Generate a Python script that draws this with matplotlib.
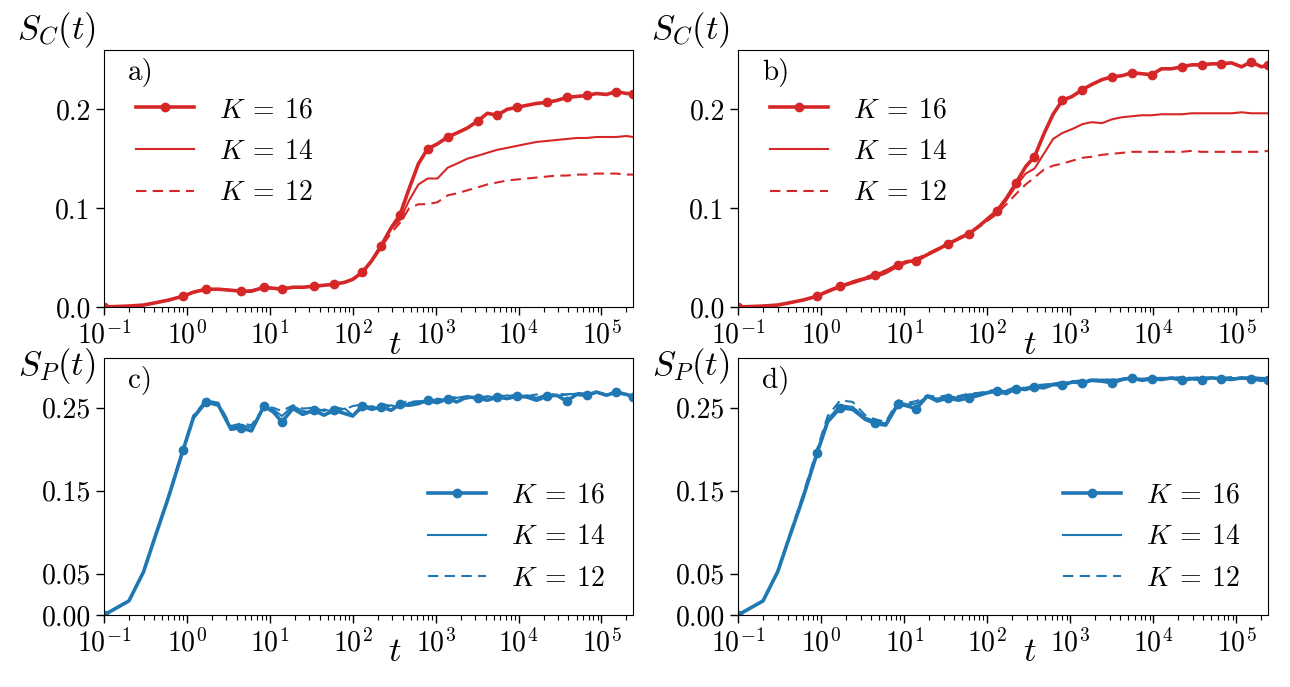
import matplotlib
matplotlib.use("Agg")
import matplotlib.pyplot as plt

plt.rcParams["mathtext.fontset"] = "cm"
plt.rcParams["font.family"] = "serif"
plt.rcParams["font.serif"] = ["cmr10", "DejaVu Serif"]
plt.rcParams["axes.formatter.use_mathtext"] = True

# time grid shared by all curves
t = [0.1, 0.2, 0.3, 0.4, 0.6, 0.9, 1.2, 1.7, 2.4, 3.4, 4.5, 6.0, 8.5,
     11, 14, 19, 25, 34, 45, 60, 80, 100, 130, 170, 220, 290, 370, 480,
     620, 800, 1050, 1400, 1800, 2400, 3200, 4200, 5500, 7300, 9500,
     12500, 16500, 22000, 29000, 38000, 50000, 66000, 87000, 115000,
     150000, 200000, 240000]

# panel a) S_C(t)
sc_a_16 = [0.000, 0.001, 0.002, 0.004, 0.007, 0.011, 0.015, 0.018, 0.018, 0.017,
           0.016, 0.016, 0.020, 0.019, 0.018, 0.020, 0.020, 0.021, 0.022, 0.023,
           0.025, 0.028, 0.035, 0.047, 0.062, 0.080, 0.093, 0.120, 0.145, 0.160,
           0.165, 0.172, 0.176, 0.181, 0.188, 0.196, 0.194, 0.200, 0.202, 0.204,
           0.206, 0.207, 0.209, 0.212, 0.213, 0.214, 0.216, 0.215, 0.218, 0.216,
           0.216]
sc_a_14 = [0.000, 0.001, 0.002, 0.004, 0.007, 0.011, 0.015, 0.018, 0.018, 0.017,
           0.016, 0.017, 0.019, 0.019, 0.019, 0.020, 0.020, 0.021, 0.022, 0.023,
           0.025, 0.028, 0.035, 0.047, 0.061, 0.079, 0.088, 0.108, 0.124, 0.130,
           0.130, 0.141, 0.145, 0.150, 0.153, 0.156, 0.159, 0.161, 0.163, 0.165,
           0.167, 0.168, 0.169, 0.170, 0.171, 0.171, 0.172, 0.172, 0.172, 0.173,
           0.172]
sc_a_12 = [0.000, 0.001, 0.002, 0.004, 0.007, 0.011, 0.015, 0.018, 0.018, 0.017,
           0.016, 0.017, 0.019, 0.019, 0.019, 0.020, 0.020, 0.021, 0.022, 0.023,
           0.025, 0.028, 0.035, 0.046, 0.060, 0.075, 0.085, 0.100, 0.104, 0.104,
           0.106, 0.113, 0.115, 0.118, 0.121, 0.124, 0.126, 0.128, 0.129, 0.130,
           0.131, 0.132, 0.133, 0.133, 0.134, 0.134, 0.135, 0.135, 0.135, 0.134,
           0.134]

# panel b) S_C(t)
sc_b_16 = [0.000, 0.001, 0.002, 0.004, 0.007, 0.011, 0.016, 0.021, 0.025, 0.029,
           0.032, 0.036, 0.043, 0.046, 0.047, 0.053, 0.058, 0.064, 0.069, 0.074,
           0.082, 0.089, 0.097, 0.110, 0.125, 0.142, 0.152, 0.175, 0.195, 0.209,
           0.213, 0.220, 0.225, 0.230, 0.233, 0.234, 0.237, 0.236, 0.235, 0.241,
           0.241, 0.243, 0.245, 0.245, 0.246, 0.246, 0.247, 0.243, 0.248, 0.243,
           0.245]
sc_b_14 = [0.000, 0.001, 0.002, 0.004, 0.007, 0.011, 0.015, 0.020, 0.024, 0.028,
           0.030, 0.034, 0.041, 0.045, 0.048, 0.053, 0.058, 0.064, 0.069, 0.074,
           0.082, 0.088, 0.096, 0.108, 0.122, 0.135, 0.140, 0.155, 0.170, 0.176,
           0.180, 0.185, 0.187, 0.186, 0.190, 0.192, 0.193, 0.194, 0.194, 0.195,
           0.195, 0.195, 0.196, 0.196, 0.196, 0.196, 0.196, 0.197, 0.196, 0.196,
           0.196]
sc_b_12 = [0.000, 0.001, 0.002, 0.004, 0.007, 0.011, 0.016, 0.021, 0.026, 0.030,
           0.034, 0.037, 0.043, 0.047, 0.049, 0.054, 0.059, 0.065, 0.070, 0.075,
           0.081, 0.087, 0.094, 0.104, 0.114, 0.124, 0.131, 0.139, 0.143, 0.145,
           0.148, 0.151, 0.152, 0.154, 0.155, 0.156, 0.157, 0.157, 0.157, 0.157,
           0.157, 0.157, 0.158, 0.157, 0.157, 0.157, 0.157, 0.157, 0.157, 0.157,
           0.158]

# panel c) S_P(t)
sp_c_16 = [0.000, 0.017, 0.052, 0.090, 0.142, 0.199, 0.238, 0.257, 0.253, 0.224,
           0.226, 0.222, 0.252, 0.245, 0.233, 0.249, 0.242, 0.247, 0.241, 0.247,
           0.243, 0.240, 0.252, 0.248, 0.251, 0.247, 0.254, 0.253, 0.255, 0.259,
           0.256, 0.261, 0.257, 0.263, 0.262, 0.259, 0.263, 0.261, 0.264, 0.263,
           0.259, 0.264, 0.265, 0.258, 0.266, 0.265, 0.269, 0.265, 0.269, 0.266,
           0.263]
sp_c_14 = [0.000, 0.017, 0.052, 0.090, 0.143, 0.200, 0.240, 0.258, 0.254, 0.226,
           0.229, 0.226, 0.250, 0.248, 0.240, 0.252, 0.246, 0.244, 0.248, 0.245,
           0.249, 0.241, 0.249, 0.252, 0.247, 0.253, 0.250, 0.256, 0.258, 0.256,
           0.261, 0.259, 0.262, 0.264, 0.260, 0.264, 0.262, 0.265, 0.263, 0.265,
           0.262, 0.266, 0.264, 0.266, 0.267, 0.265, 0.268, 0.266, 0.267, 0.266,
           0.265]
sp_c_12 = [0.000, 0.017, 0.053, 0.091, 0.144, 0.201, 0.241, 0.259, 0.256, 0.228,
           0.231, 0.229, 0.251, 0.250, 0.246, 0.253, 0.249, 0.250, 0.246, 0.251,
           0.248, 0.252, 0.254, 0.250, 0.255, 0.252, 0.256, 0.258, 0.257, 0.260,
           0.259, 0.262, 0.263, 0.261, 0.264, 0.263, 0.265, 0.264, 0.266, 0.264,
           0.266, 0.265, 0.267, 0.266, 0.268, 0.267, 0.268, 0.267, 0.268, 0.266,
           0.265]

# panel d) S_P(t)
sp_d_16 = [0.000, 0.017, 0.052, 0.089, 0.140, 0.196, 0.233, 0.250, 0.248, 0.236,
           0.231, 0.229, 0.255, 0.252, 0.249, 0.264, 0.258, 0.262, 0.259, 0.262,
           0.265, 0.268, 0.270, 0.267, 0.273, 0.272, 0.275, 0.274, 0.278, 0.277,
           0.281, 0.280, 0.283, 0.282, 0.280, 0.284, 0.286, 0.283, 0.285, 0.284,
           0.286, 0.283, 0.285, 0.284, 0.286, 0.285, 0.284, 0.286, 0.285, 0.283,
           0.284]
sp_d_14 = [0.000, 0.017, 0.052, 0.090, 0.142, 0.198, 0.236, 0.253, 0.251, 0.238,
           0.234, 0.231, 0.257, 0.254, 0.255, 0.263, 0.261, 0.264, 0.262, 0.266,
           0.267, 0.269, 0.271, 0.270, 0.274, 0.273, 0.276, 0.277, 0.279, 0.280,
           0.281, 0.282, 0.283, 0.284, 0.283, 0.285, 0.285, 0.284, 0.286, 0.285,
           0.285, 0.286, 0.285, 0.286, 0.286, 0.285, 0.286, 0.285, 0.286, 0.285,
           0.285]
sp_d_12 = [0.000, 0.017, 0.053, 0.091, 0.144, 0.201, 0.240, 0.259, 0.257, 0.241,
           0.236, 0.233, 0.259, 0.256, 0.258, 0.265, 0.263, 0.265, 0.264, 0.267,
           0.268, 0.270, 0.272, 0.271, 0.275, 0.274, 0.277, 0.278, 0.279, 0.281,
           0.282, 0.283, 0.284, 0.284, 0.284, 0.285, 0.286, 0.285, 0.286, 0.286,
           0.286, 0.287, 0.286, 0.287, 0.286, 0.286, 0.287, 0.286, 0.287, 0.286,
           0.286]

labels = [r"$K\:=\:16$", r"$K\:=\:14$", r"$K\:=\:12$"]
red = "#d62728"
blue = "#1f77b4"
# which samples of the K=16 curve carry a dot
marks = [0, 5, 7, 10, 12, 14, 17, 19, 22, 24, 26, 29, 31, 34, 36, 38, 41,
         43, 45, 48, 50]

fig = plt.figure(figsize=(12.9, 6.87), dpi=100)
ax_a = fig.add_axes([0.0806, 0.5531, 0.4101, 0.3741])
ax_b = fig.add_axes([0.5721, 0.5531, 0.4109, 0.3741])
ax_c = fig.add_axes([0.0806, 0.1048, 0.4101, 0.3741])
ax_d = fig.add_axes([0.5721, 0.1048, 0.4109, 0.3741])

panels = [
    (ax_a, "a)", [sc_a_16, sc_a_14, sc_a_12], red, r"$S_C(t)$"),
    (ax_b, "b)", [sc_b_16, sc_b_14, sc_b_12], red, r"$S_C(t)$"),
    (ax_c, "c)", [sp_c_16, sp_c_14, sp_c_12], blue, r"$S_P(t)$"),
    (ax_d, "d)", [sp_d_16, sp_d_14, sp_d_12], blue, r"$S_P(t)$"),
]

for ax, tag, series, col, ylab in panels:
    ax.plot(t, series[0], color=col, lw=2.6, marker="o", ms=6, markevery=marks,
            label=labels[0])
    ax.plot(t, series[1], color=col, lw=1.5, label=labels[1])
    ax.plot(t, series[2], color=col, lw=1.5, ls=(0, (5, 3)), label=labels[2])
    ax.set_xscale("log")
    ax.set_xlim(0.1, 2.4e5)
    ax.tick_params(axis="both", which="major", labelsize=20, length=6, width=1)
    ax.tick_params(axis="both", which="minor", length=3.5, width=0.8)
    ax.set_xticks([1e-1, 1e0, 1e1, 1e2, 1e3, 1e4, 1e5])
    ax.set_xlabel(r"$t$", fontsize=25)
    ax.xaxis.set_label_coords(0.55, -0.085)
    ax.set_ylabel(ylab, fontsize=25, rotation=0)
    ax.text(0.045, 0.97, tag, transform=ax.transAxes, fontsize=21,
            va="top", ha="left")

for ax in (ax_a, ax_b):
    ax.set_ylim(0, 0.26)
    ax.set_yticks([0.0, 0.1, 0.2])
    ax.set_yticklabels(["0.0", "0.1", "0.2"])
    ax.yaxis.set_label_coords(-0.09, 1.0)
    ax.legend(loc="upper left", bbox_to_anchor=(0.06, 0.818), frameon=False,
              fontsize=20, handlelength=2.1, handletextpad=0.9,
              labelspacing=0.55, borderpad=0, borderaxespad=0)

for ax in (ax_c, ax_d):
    ax.set_ylim(0, 0.31)
    ax.set_yticks([0.0, 0.05, 0.15, 0.25])
    ax.set_yticklabels(["0.00", "0.05", "0.15", "0.25"])
    ax.yaxis.set_label_coords(-0.09, 0.89)
    ax.legend(loc="lower right", bbox_to_anchor=(0.949, 0.09), frameon=False,
              fontsize=20, handlelength=2.1, handletextpad=0.9,
              labelspacing=0.55, borderpad=0, borderaxespad=0)

fig.savefig("out.png", dpi=100)
